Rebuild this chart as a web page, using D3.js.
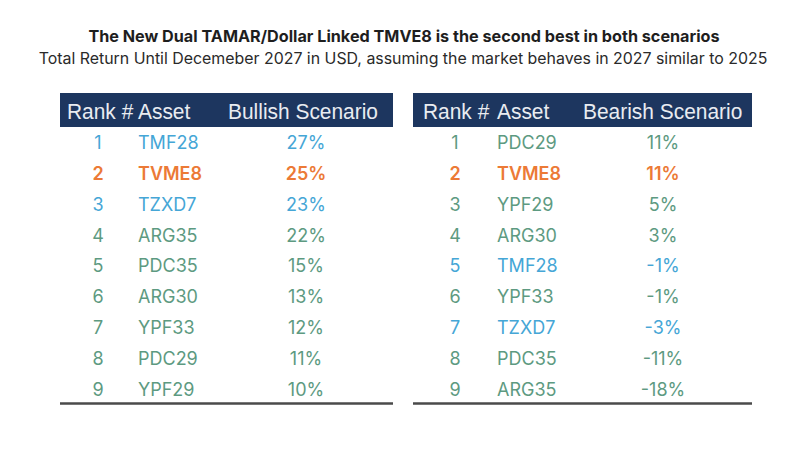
<!DOCTYPE html>
<html>
<head>
<meta charset="utf-8">
<script src="https://cdn.jsdelivr.net/npm/d3@7"></script>
<style>
  html, body { margin: 0; padding: 0; background: #fff; }
  svg { display: block; }
</style>
</head>
<body>
<svg id="chart" width="800" height="453"></svg>
<script>
// data
var titleText = 'The New Dual TAMAR/Dollar Linked TMVE8 is the second best in both scenarios';
var subtitleText = 'Total Return Until Decemeber 2027 in USD, assuming the market behaves in 2027 similar to 2025';

var ranks = [1, 2, 3, 4, 5, 6, 7, 8, 9];

var bullAssets = ['TMF28', 'TVME8', 'TZXD7', 'ARG35', 'PDC35', 'ARG30', 'YPF33', 'PDC29', 'YPF29'];
var bullValues = [27, 25, 23, 22, 15, 13, 12, 11, 10];

var bearAssets = ['PDC29', 'TVME8', 'YPF29', 'ARG30', 'TMF28', 'YPF33', 'TZXD7', 'PDC35', 'ARG35'];
var bearValues = [11, 11, 5, 3, -1, -1, -3, -11, -18];

var headerLabels = ['Rank #', 'Asset'];
var scenarioLabels = ['Bullish Scenario', 'Bearish Scenario'];

var featured = ['TVME8'];
var tamarLinked = ['TMF28', 'TZXD7'];

(function drawChart () {
  'use strict';

  var svg = d3.select('#chart');

  var navy = '#1d365f';
  var orange = '#ec7a36';
  var blue = '#45a6d6';
  var green = '#5d9a81';

  var bodyFont = 'Inter, "Open Sans", sans-serif';
  var headFont = '"Liberation Sans", Arial, sans-serif';

  var y = d3.scaleBand()
    .domain(ranks)
    .range([127.6, 404.4]);

  var pct = function (v) { return v + '%'; };

  function colorOf (asset) {
    if (featured.indexOf(asset) >= 0) return orange;
    if (tamarLinked.indexOf(asset) >= 0) return blue;
    return green;
  }

  svg.append('text')
    .attr('x', 404)
    .attr('y', 42)
    .attr('text-anchor', 'middle')
    .attr('font-family', bodyFont)
    .attr('font-weight', 700)
    .attr('font-size', 16.2)
    .attr('fill', '#1e1e1e')
    .text(titleText);

  svg.append('text')
    .attr('x', 403)
    .attr('y', 64)
    .attr('text-anchor', 'middle')
    .attr('font-family', bodyFont)
    .attr('font-size', 15.9)
    .attr('fill', '#2a2a2a')
    .text(subtitleText);

  var tables = [
    { x0: 60, width: 333, cols: [98, 138, 306], heads: [67, 138, 228], assets: bullAssets, values: bullValues, label: scenarioLabels[0] },
    { x0: 413, width: 339, cols: [455, 497, 663], heads: [423, 497, 583], assets: bearAssets, values: bearValues, label: scenarioLabels[1] }
  ];

  // squeeze header text to a narrow look, same factor for every label
  var squeeze = null;

  tables.forEach(function (t) {
    var g = svg.append('g');

    g.append('rect')
      .attr('x', t.x0)
      .attr('y', 93)
      .attr('width', t.width)
      .attr('height', 34)
      .attr('fill', navy);

    var heads = headerLabels.concat([t.label]);
    var head = g.selectAll('.head')
      .data(heads)
      .enter()
      .append('text')
      .attr('class', 'head')
      .attr('x', function (d, i) { return t.heads[i]; })
      .attr('y', 119)
      .attr('font-family', headFont)
      .attr('font-size', 22.5)
      .attr('fill', '#e9ecf1')
      .text(function (d) { return d; });

    if (squeeze === null) {
      squeeze = 150 / head.nodes()[2].getComputedTextLength();
    }
    head.each(function () {
      var w = this.getComputedTextLength();
      d3.select(this)
        .attr('textLength', w * squeeze)
        .attr('lengthAdjust', 'spacingAndGlyphs');
    });

    var rows = ranks.map(function (r, i) {
      return { rank: r, asset: t.assets[i], value: t.values[i] };
    });

    var row = g.selectAll('.row')
      .data(rows)
      .enter()
      .append('g')
      .attr('class', 'row')
      .attr('transform', function (d) { return 'translate(0,' + (y(d.rank) + y.bandwidth() / 2) + ')'; })
      .attr('font-family', bodyFont)
      .attr('font-size', 18)
      .attr('font-weight', function (d) { return featured.indexOf(d.asset) >= 0 ? 600 : 400; })
      .attr('fill', function (d) { return colorOf(d.asset); });

    row.append('text')
      .attr('x', t.cols[0])
      .attr('dy', '0.36em')
      .attr('text-anchor', 'middle')
      .text(function (d) { return d.rank; });

    row.append('text')
      .attr('x', t.cols[1])
      .attr('dy', '0.36em')
      .text(function (d) { return d.asset; });

    row.append('text')
      .attr('x', t.cols[2])
      .attr('dy', '0.36em')
      .attr('text-anchor', 'middle')
      .text(function (d) { return pct(d.value); });

    g.append('line')
      .attr('x1', t.x0)
      .attr('x2', t.x0 + t.width)
      .attr('y1', y.range()[1] - 1)
      .attr('y2', y.range()[1] - 1)
      .attr('stroke', '#4a4a4a')
      .attr('stroke-width', 2.5);
  });
})();
</script>
</body>
</html>
